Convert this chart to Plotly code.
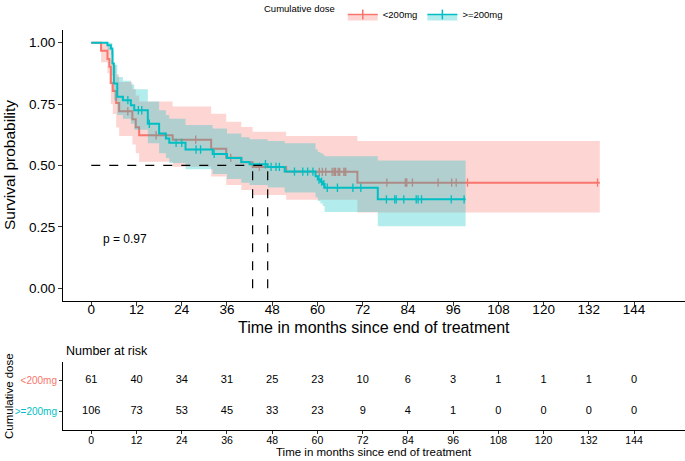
import numpy as np
import plotly.graph_objects as go

# czasy zdarzen (miesiace), przezycie i przedzialy ufnosci
red_time = [0, 2.6, 4.3, 4.8, 5.2, 5.7, 6.6, 7.4, 10.9, 11.8, 12.7, 21.6, 31.8, 35.8, 39.8, 42.8, 51.7, 70.6]
red_surv = [1.0, 0.967, 0.934, 0.902, 0.836, 0.803, 0.754, 0.721, 0.688, 0.656, 0.623, 0.605, 0.568, 0.531, 0.513, 0.494, 0.474, 0.430]
red_upper = [1.0, 1.0, 0.99, 0.98, 0.93, 0.91, 0.87, 0.84, 0.81, 0.785, 0.76, 0.74, 0.711, 0.678, 0.657, 0.637, 0.62, 0.60]
red_lower = [1.0, 0.92, 0.875, 0.83, 0.75, 0.71, 0.655, 0.62, 0.585, 0.55, 0.515, 0.495, 0.455, 0.42, 0.40, 0.38, 0.36, 0.308]
red_end = 134.9
red_censor = [9.7, 17.2, 27.7, 37.0, 44.6, 60.5, 61.3, 62.2, 63.9, 64.4, 64.6, 64.8, 65.5, 65.9, 67.0, 67.3, 67.5,
              78.4, 83.3, 83.5, 83.7, 85.2, 92.0, 95.6, 96.8, 99.8, 134.3]

teal_time = [0, 4.3, 5.2, 5.6, 6.0, 6.9, 8.4, 10.5, 11.4, 15.0, 18.0, 19.8, 20.7, 25.0, 32.2, 36.0, 39.8, 42.0,
             46.8, 51.3, 59.5, 60.1, 60.8, 61.4, 61.9, 76.0]
teal_surv = [1.0, 0.99, 0.976, 0.915, 0.834, 0.78, 0.766, 0.745, 0.725, 0.67, 0.63, 0.61, 0.592, 0.565, 0.547, 0.53,
             0.514, 0.505, 0.494, 0.475, 0.456, 0.443, 0.434, 0.424, 0.409, 0.362]
teal_upper = [1.0, 1.0, 1.0, 0.97, 0.91, 0.86, 0.845, 0.83, 0.81, 0.76, 0.725, 0.705, 0.69, 0.665, 0.65, 0.63, 0.615,
              0.607, 0.60, 0.59, 0.565, 0.555, 0.55, 0.545, 0.537, 0.52]
teal_lower = [1.0, 0.97, 0.95, 0.865, 0.765, 0.705, 0.69, 0.67, 0.645, 0.59, 0.55, 0.53, 0.51, 0.485, 0.465, 0.445,
              0.43, 0.42, 0.41, 0.39, 0.37, 0.355, 0.345, 0.335, 0.31, 0.252]
teal_end = 99.3
teal_censor = [9.7, 12.5, 13.4, 15.4, 22.5, 24.0, 27.8, 29.0, 32.6, 46.2, 47.7, 49.0, 49.9, 53.9, 56.1, 57.4, 58.8,
               60.4, 61.1, 61.7, 62.6, 65.3, 69.4, 71.5, 78.3, 80.5, 80.9, 82.9, 86.2, 86.7, 87.6, 95.5, 98.9]

groups = ["<200mg", ">=200mg"]
risk_times = [0, 12, 24, 36, 48, 60, 72, 84, 96, 108, 120, 132, 144]
risk_red = [61, 40, 34, 31, 25, 23, 10, 6, 3, 1, 1, 1, 0]
risk_teal = [106, 73, 53, 45, 33, 23, 9, 4, 1, 0, 0, 0, 0]
p_value = "p = 0.97"

RED = "#F8766D"
TEAL = "#00BFC4"
FILL = {RED: "rgba(248,118,109,0.3)", TEAL: "rgba(0,191,196,0.3)"}
FONT = "Liberation Sans, Arial, sans-serif"
W, H = 685, 461

fig = go.Figure()


def add_group(t, s, lo, hi, end, cens, color, name):
    tt = list(t) + [end]
    ext = lambda v: list(v) + [v[-1]]
    fig.add_trace(go.Scatter(x=tt, y=ext(lo), mode="lines", line=dict(width=0, shape="hv"),
                             showlegend=False, hoverinfo="skip", xaxis="x", yaxis="y"))
    fig.add_trace(go.Scatter(x=tt, y=ext(hi), mode="lines", line=dict(width=0, shape="hv"),
                             fill="tonexty", fillcolor=FILL[color], showlegend=False, hoverinfo="skip"))
    fig.add_trace(go.Scatter(x=tt, y=ext(s), mode="lines", line=dict(color=color, width=2, shape="hv"),
                             showlegend=False, name=name))
    idx = np.searchsorted(t, cens, side="right") - 1
    fig.add_trace(go.Scatter(x=cens, y=np.array(s)[idx], mode="markers", showlegend=False,
                             marker=dict(symbol="line-ns", size=6, line=dict(color=color, width=1.3))))


add_group(red_time, red_surv, red_lower, red_upper, red_end, red_censor, RED, groups[0])
add_group(teal_time, teal_surv, teal_lower, teal_upper, teal_end, teal_censor, TEAL, groups[1])

# mediany (linie przerywane)
medians = []
for t, s in [(red_time, red_surv), (teal_time, teal_surv)]:
    medians.append(next(ti for ti, si in zip(t, s) if si <= 0.5))
dash = dict(color="black", width=1.2, dash="dash")
fig.add_trace(go.Scatter(x=[0, max(medians)], y=[0.5, 0.5], mode="lines", line=dash, showlegend=False))
for m in medians:
    fig.add_trace(go.Scatter(x=[m, m], y=[0, 0.5], mode="lines", line=dash, showlegend=False))

# legenda
for color, name in [(RED, groups[0]), (TEAL, groups[1])]:
    fig.add_trace(go.Scatter(x=[None], y=[None], mode="lines+markers", name=name, fill="toself",
                             fillcolor=FILL[color], line=dict(color=color, width=1.5),
                             marker=dict(symbol="line-ns", size=7, line=dict(color=color, width=1.5))))

# tabela liczby narazonych
for y, vals in [(2, risk_red), (1, risk_teal)]:
    fig.add_trace(go.Scatter(x=risk_times, y=[y] * len(vals), mode="text", text=[str(v) for v in vals],
                             textfont=dict(size=11, color="black", family=FONT), showlegend=False,
                             xaxis="x2", yaxis="y2"))

x0 = 63 / W
main_dom = [1 - 300.5 / H, 1 - 30.4 / H]
tab_dom = [1 - 430 / H, 1 - 362 / H]
axis_common = dict(showline=True, linecolor="black", linewidth=1, ticks="outside", tickcolor="#333",
                   showgrid=False, zeroline=False, mirror=False, automargin=False)

fig.update_layout(
    width=W, height=H, autosize=False, margin=dict(l=0, r=0, t=0, b=0),
    plot_bgcolor="white", paper_bgcolor="white",
    font=dict(family=FONT, color="black"),
    xaxis=dict(domain=[x0, 1], range=[-7.5, 157.5], tickvals=risk_times, ticklen=4,
               tickfont=dict(size=13.5), ticklabelstandoff=-8, anchor="y", **axis_common),
    yaxis=dict(domain=main_dom, range=[-0.05, 1.05], tickvals=[0, 0.25, 0.5, 0.75, 1],
               tickformat=".2f", ticklen=4, tickfont=dict(size=13.5), anchor="x", **axis_common),
    xaxis2=dict(domain=[x0, 1], range=[-7.5, 157.5], tickvals=risk_times, ticklen=3,
                tickfont=dict(size=10.5), ticklabelstandoff=-3, anchor="y2", **axis_common),
    yaxis2=dict(domain=tab_dom, range=[0.4, 2.6], tickvals=[2, 1], ticklen=3,
                ticktext=['<span style="color:%s">&lt;200mg</span>' % RED,
                          '<span style="color:%s">&gt;=200mg</span>' % TEAL],
                tickfont=dict(size=10), anchor="x2", **axis_common),
    legend=dict(orientation="h", x=262 / W, y=1, xanchor="left", yanchor="top", traceorder="normal",
                title=dict(text="Cumulative dose", side="left", font=dict(size=9.5)),
                font=dict(size=9.5), itemwidth=30, bgcolor="rgba(0,0,0,0)"),
)

ann = [
    dict(text="Time in months since end of treatment", x=374 / W, y=1 - 327.5 / H, font=dict(size=16)),
    dict(text="Survival probability", x=9 / W, y=1 - 165 / H, textangle=-90, font=dict(size=15.5)),
    dict(text="Number at risk", x=64 / W, y=1 - 351 / H, xanchor="left", font=dict(size=12.5)),
    dict(text="Cumulative dose", x=9 / W, y=1 - 396 / H, textangle=-90, font=dict(size=11.5)),
    dict(text="Time in months since end of treatment", x=374 / W, y=1 - 452 / H, font=dict(size=11.5)),
]
for a in ann:
    a.setdefault("xanchor", "center")
    fig.add_annotation(xref="paper", yref="paper", yanchor="middle", showarrow=False, **a)

fig.add_annotation(text=p_value, x=2.6, y=0.2, xref="x", yref="y", xanchor="left", yanchor="middle",
                   showarrow=False, font=dict(size=12))

# strona html ma domyslny margines 8px - usuwamy go
fig.write_html("out.html", config={"displayModeBar": False},
               post_script="document.body.style.margin='0';")
